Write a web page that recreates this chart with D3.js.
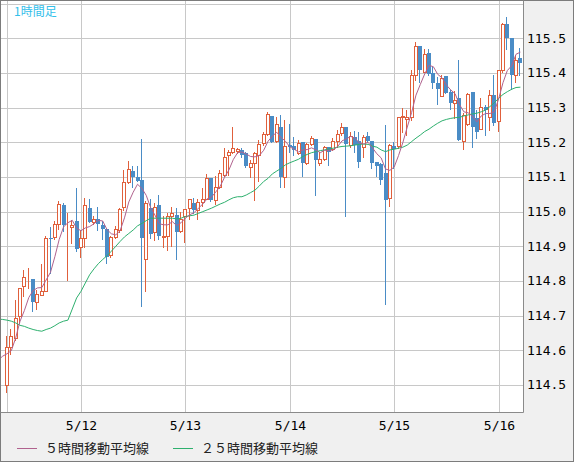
<!DOCTYPE html>
<html>
<head>
<meta charset="utf-8">
<script src="https://cdn.jsdelivr.net/npm/d3@7"></script>
<style>
  body { margin: 0; background: #fff; }
</style>
</head>
<body>
<div id="chart"></div>
<script>
// hourly candles, first one at 5/11 07:00
const startTime = new Date(2021, 4, 11, 7);

const opens = [114.50,114.61,114.635,114.698,114.785,114.81,114.806,114.74,114.76,114.77,
  114.925,114.927,114.965,115.02,114.96,114.955,114.974,114.898,114.924,115.01,
  114.97,114.979,114.96,114.95,114.876,114.927,114.948,115.013,115.086,115.118,
  115.099,115.091,114.862,115.01,114.942,115.018,114.926,114.93,114.986,114.99,
  114.944,114.986,115.01,115.026,115.005,115.029,115.036,115.096,115.034,115.072,
  115.106,115.163,115.173,115.176,115.178,115.17,115.13,115.139,115.163,115.197,
  115.223,115.276,115.205,115.243,115.099,115.192,115.19,115.17,115.202,115.139,
  115.195,115.21,115.139,115.151,115.187,115.18,115.204,115.226,115.243,115.192,
  115.216,115.204,115.187,115.218,115.204,115.144,115.137,115.11,115.04,115.19,
  115.188,115.272,115.268,115.272,115.394,115.478,115.404,115.459,115.399,115.372,
  115.334,115.391,115.346,115.314,115.327,115.205,115.253,115.346,115.269,115.237,
  115.303,115.274,115.337,115.26,115.409,115.541,115.5,115.394,115.442];
const highs = [114.64,114.66,114.746,114.78,114.833,114.837,114.806,114.775,114.85,114.93,
  114.956,114.972,115.03,115.025,114.996,114.977,115.068,114.948,115.04,115.036,
  114.987,115.013,114.972,114.95,114.93,114.958,115.01,115.12,115.145,115.133,
  115.133,115.21,115.03,115.036,115.024,115.047,114.986,114.995,115.014,115.01,
  115.0,115.007,115.036,115.038,115.036,115.067,115.109,115.096,115.103,115.12,
  115.183,115.178,115.245,115.183,115.183,115.173,115.149,115.173,115.207,115.231,
  115.288,115.276,115.274,115.279,115.264,115.253,115.216,115.207,115.202,115.197,
  115.218,115.21,115.173,115.189,115.187,115.212,115.236,115.255,115.243,115.231,
  115.234,115.231,115.221,115.231,115.204,115.144,115.14,115.25,115.195,115.2,
  115.272,115.298,115.293,115.409,115.488,115.478,115.468,115.468,115.416,115.389,
  115.394,115.391,115.351,115.349,115.438,115.284,115.341,115.346,115.293,115.327,
  115.308,115.351,115.394,115.409,115.545,115.561,115.5,115.452,115.471];
const lows = [114.48,114.59,114.63,114.68,114.756,114.78,114.712,114.72,114.76,114.77,
  114.823,114.92,114.95,114.943,114.804,114.91,114.886,114.87,114.898,114.97,
  114.965,114.948,114.92,114.852,114.87,114.924,114.94,115.005,115.083,115.072,
  115.087,114.729,114.772,114.923,114.918,114.92,114.897,114.89,114.90,114.862,
  114.942,114.913,114.98,114.995,114.98,115.016,115.036,115.03,115.022,115.067,
  115.103,115.106,115.168,115.168,115.159,115.13,115.099,115.034,115.087,115.192,
  115.221,115.202,115.202,115.072,115.072,115.173,115.163,115.166,115.103,115.137,
  115.192,115.048,115.135,115.149,115.135,115.178,115.187,115.221,114.988,115.187,
  115.173,115.128,115.159,115.202,115.125,115.103,115.08,114.733,115.015,115.125,
  115.183,115.231,115.221,115.264,115.38,115.375,115.404,115.394,115.356,115.311,
  115.334,115.341,115.295,115.269,115.207,115.18,115.25,115.186,115.212,115.237,
  115.221,115.236,115.25,115.234,115.404,115.468,115.353,115.375,115.394];
const closes = [114.61,114.64,114.693,114.78,114.81,114.812,114.739,114.763,114.77,114.924,
  114.92,114.965,115.023,114.962,114.962,114.962,114.892,114.924,115.02,114.97,
  114.979,114.965,114.95,114.87,114.927,114.95,115.008,115.086,115.123,115.099,
  115.087,114.923,115.024,114.936,115.012,114.93,114.93,114.987,114.995,114.942,
  114.98,115.007,115.036,115.005,115.029,115.036,115.096,115.033,115.072,115.11,
  115.159,115.171,115.183,115.18,115.163,115.132,115.139,115.168,115.194,115.223,
  115.282,115.202,115.252,115.099,115.19,115.185,115.178,115.199,115.139,115.195,
  115.212,115.149,115.151,115.185,115.173,115.204,115.223,115.243,115.194,115.218,
  115.192,115.144,115.216,115.205,115.139,115.132,115.09,115.034,115.192,115.18,
  115.272,115.276,115.272,115.394,115.478,115.409,115.455,115.397,115.372,115.353,
  115.385,115.343,115.312,115.322,115.207,115.279,115.339,115.245,115.231,115.303,
  115.293,115.337,115.257,115.409,115.541,115.5,115.394,115.438,115.428];

// moving averages, starting two hours before the first candle
const maStart = -2;
const ma5 = [114.572,114.583,
  114.59,114.599,114.636,114.684,114.715,114.752,114.772,114.78,114.781,114.803,
  114.825,114.87,114.92,114.956,114.968,114.975,114.952,114.945,114.953,114.957,
  114.965,114.975,114.973,114.948,114.936,114.933,114.945,114.982,115.028,115.056,
  115.079,115.067,115.047,115.012,114.99,114.965,114.962,114.962,114.971,114.96,
  114.968,114.981,114.991,114.997,115.01,115.022,115.037,115.042,115.057,115.073,
  115.099,115.12,115.15,115.17,115.172,115.166,115.159,115.158,115.162,115.177,
  115.203,115.218,115.229,115.214,115.203,115.187,115.18,115.172,115.178,115.179,
  115.184,115.178,115.17,115.177,115.177,115.178,115.188,115.204,115.21,115.217,
  115.212,115.198,115.195,115.2,115.184,115.167,115.155,115.123,115.119,115.129,
  115.162,115.2,115.244,115.286,115.336,115.367,115.397,115.422,115.418,115.396,
  115.386,115.365,115.351,115.34,115.309,115.288,115.285,115.275,115.259,115.276,
  115.283,115.283,115.288,115.325,115.372,115.407,115.421,115.454,115.46];
const ma25 = [114.69,114.689,
  114.687,114.684,114.679,114.672,114.669,114.664,114.66,114.657,114.655,114.66,
  114.664,114.671,114.679,114.684,114.687,114.719,114.751,114.77,114.794,114.818,
  114.835,114.85,114.862,114.873,114.886,114.9,114.914,114.927,114.937,114.947,
  114.959,114.966,114.974,114.981,114.981,114.981,114.981,114.981,114.981,114.979,
  114.981,114.986,114.988,114.99,114.995,115.0,115.005,115.01,115.016,115.022,
  115.027,115.034,115.04,115.043,115.043,115.048,115.055,115.062,115.074,115.087,
  115.096,115.109,115.117,115.125,115.135,115.141,115.146,115.151,115.159,115.165,
  115.17,115.173,115.176,115.178,115.181,115.183,115.186,115.188,115.189,115.19,
  115.192,115.194,115.195,115.194,115.189,115.186,115.178,115.173,115.178,115.18,
  115.183,115.186,115.192,115.202,115.212,115.221,115.231,115.238,115.247,115.255,
  115.262,115.266,115.269,115.271,115.272,115.276,115.279,115.282,115.284,115.288,
  115.293,115.303,115.314,115.327,115.338,115.346,115.353,115.358,115.359];

const priceTicks = [114.5,114.6,114.7,114.8,114.9,115.0,115.1,115.2,115.3,115.4,115.5,115.6];
const legendNames = ['５時間移動平均線', '２５時間移動平均線'];
const title = '1時間足';

const width = 574, height = 462;
const plot = {left: 1, top: 1, right: 523, bottom: 412};
const upColor = '#e0603c', downColor = '#4a8cc6';
const ma5Color = '#b0628e', ma25Color = '#2eb06e';
const gridColor = '#c8c8c8';
const monoFont = '"DejaVu Sans Mono", "Liberation Mono", monospace';
const jpFont = '"Noto Sans CJK JP", "Noto Sans", sans-serif';

const hour = i => new Date(startTime.getTime() + i * 3600e3);

const x = d3.scaleTime()
  .domain([hour(-1.38), hour(118.6)])
  .range([plot.left, plot.right]);
const y = d3.scaleLinear()
  .domain([114.422, 115.6076])
  .range([plot.bottom, plot.top]);

const svg = d3.select('#chart').append('svg')
  .attr('width', width)
  .attr('height', height)
  .style('display', 'block');

svg.append('rect')
  .attr('x', 0.5).attr('y', 0.5)
  .attr('width', width - 1).attr('height', height - 1)
  .attr('fill', '#f0f0f0')
  .attr('stroke', '#7c7c7c');

svg.append('rect')
  .attr('x', plot.left).attr('y', plot.top)
  .attr('width', plot.right - plot.left).attr('height', plot.bottom - plot.top)
  .attr('fill', '#fff');

svg.append('clipPath').attr('id', 'clip')
  .append('rect')
  .attr('x', plot.left).attr('y', plot.top)
  .attr('width', plot.right - plot.left).attr('height', plot.bottom - plot.top);

const candles = opens.map((o, i) => ({
  t: hour(i), o: o, h: highs[i], l: lows[i], c: closes[i]
}));

// grid
const dayTicks = d3.timeDay.range(startTime, hour(119));
const gridX = [startTime].concat(dayTicks);
const grid = svg.append('g').attr('clip-path', 'url(#clip)');
grid.selectAll('.vgrid')
  .data(gridX)
  .enter().append('line')
  .attr('x1', d => Math.round(x(d)) + 0.5)
  .attr('x2', d => Math.round(x(d)) + 0.5)
  .attr('y1', plot.top)
  .attr('y2', plot.bottom)
  .attr('stroke', gridColor);
grid.selectAll('.hgrid')
  .data(priceTicks)
  .enter().append('line')
  .attr('x1', plot.left)
  .attr('x2', plot.right)
  .attr('y1', d => Math.round(y(d)) + 0.5)
  .attr('y2', d => Math.round(y(d)) + 0.5)
  .attr('stroke', gridColor);

// candles
const cg = svg.append('g').attr('clip-path', 'url(#clip)');
const cx = d => Math.round(x(d.t));
const bodyTop = d => Math.round(y(Math.max(d.o, d.c)));
const bodyBot = d => Math.round(y(Math.min(d.o, d.c)));

const item = cg.selectAll('.candle')
  .data(candles)
  .enter().append('g');

item.append('line')
  .attr('x1', d => cx(d) - 0.5)
  .attr('x2', d => cx(d) - 0.5)
  .attr('y1', d => Math.round(y(d.h)))
  .attr('y2', d => Math.round(y(d.l)) + 1)
  .attr('stroke', d => d.c >= d.o ? upColor : downColor);

item.filter(d => d.c >= d.o).append('rect')
  .attr('x', d => cx(d) - 1.5)
  .attr('y', d => bodyTop(d) + 0.5)
  .attr('width', 3)
  .attr('height', d => Math.max(bodyBot(d) - bodyTop(d), 0))
  .attr('fill', '#fff')
  .attr('stroke', upColor);

item.filter(d => d.c < d.o).append('rect')
  .attr('x', d => cx(d) - 2)
  .attr('y', d => bodyTop(d))
  .attr('width', 4)
  .attr('height', d => Math.max(bodyBot(d) - bodyTop(d), 1))
  .attr('fill', downColor);

// moving averages
const line = d3.line()
  .x((d, i) => x(hour(i + maStart)))
  .y(d => y(d));
cg.append('path').datum(ma25)
  .attr('d', line)
  .attr('fill', 'none')
  .attr('stroke', ma25Color)
  .attr('stroke-width', 1);
cg.append('path').datum(ma5)
  .attr('d', line)
  .attr('fill', 'none')
  .attr('stroke', ma5Color)
  .attr('stroke-width', 1);

// plot frame (right and bottom)
svg.append('path')
  .attr('d', `M${plot.right + 0.5},0.5V${plot.bottom + 0.5}H0.5`)
  .attr('fill', 'none')
  .attr('stroke', '#8a8a8a');

// price labels
svg.selectAll('.ylab')
  .data(priceTicks.filter(v => y(v) > 10))
  .enter().append('text')
  .attr('x', plot.right + 4)
  .attr('y', d => y(d) + 4.5)
  .attr('font-family', monoFont)
  .attr('font-size', 13)
  .attr('fill', '#000')
  .text(d => d.toFixed(1));

// day labels
const fmt = d3.timeFormat('%-m/%-d');
svg.selectAll('.xlab')
  .data(dayTicks)
  .enter().append('text')
  .attr('x', d => Math.round(x(d)) + 0.5)
  .attr('y', 430)
  .attr('text-anchor', 'middle')
  .attr('font-family', monoFont)
  .attr('font-size', 13)
  .attr('fill', '#000')
  .text(d => fmt(d));

// legend
const legend = svg.selectAll('.legend')
  .data([{name: legendNames[0], color: ma5Color, x: 17},
         {name: legendNames[1], color: ma25Color, x: 173}])
  .enter().append('g')
  .attr('transform', d => `translate(${d.x},448.5)`);
legend.append('line')
  .attr('x1', 0).attr('x2', 20)
  .attr('stroke', d => d.color);
legend.append('text')
  .attr('x', 28)
  .attr('y', 4.5)
  .attr('font-family', jpFont)
  .attr('font-size', 13)
  .attr('fill', '#222')
  .text(d => d.name);

// title
svg.append('text')
  .attr('x', 14)
  .attr('y', 16)
  .attr('font-family', jpFont)
  .attr('font-size', 12)
  .attr('fill', '#33c0ea')
  .text(title);
</script>
</body>
</html>
